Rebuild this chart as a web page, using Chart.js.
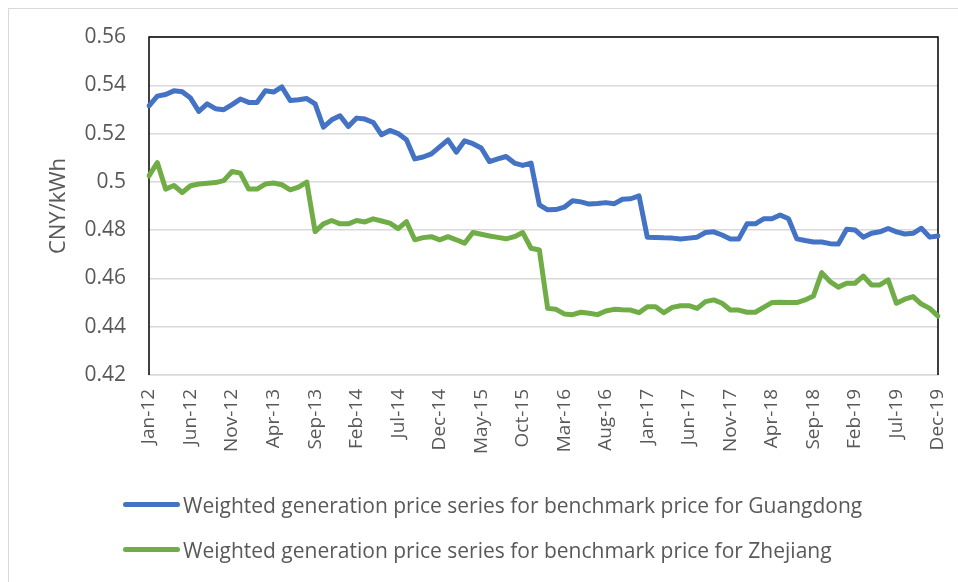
<!DOCTYPE html>
<html>
<head>
<meta charset="utf-8">
<script src="https://cdn.jsdelivr.net/npm/chart.js@4.4.1/dist/chart.umd.min.js"></script>
<style>
  html, body { margin: 0; padding: 0; background: #fff; }
  #wrap { position: relative; width: 958px; height: 582px; overflow: hidden; }
  #edge { position: absolute; left: 8px; top: 8px; right: 0; bottom: 0; border-top: 1px solid #d9d9d9; border-left: 1px solid #d9d9d9; }
  #legend { position: absolute; left: 123px; top: 482px; font-family: "Open Sans", sans-serif; font-size: 21px; color: #595959; }
  #legend .row { height: 45px; display: flex; align-items: center; white-space: nowrap; }
  #legend .swatch { display: inline-block; width: 57px; height: 5px; border-radius: 3px; margin-right: 3px; }
</style>
</head>
<body>
<div id="wrap">
  <div id="edge"></div>
  <canvas id="myChart"></canvas>
  <div id="legend"></div>
</div>
<script>
// shown tick labels on the category axis (every 5th month)
const tickLabels = ["Jan-12", "Jun-12", "Nov-12", "Apr-13", "Sep-13", "Feb-14", "Jul-14", "Dec-14", "May-15", "Oct-15",
  "Mar-16", "Aug-16", "Jan-17", "Jun-17", "Nov-17", "Apr-18", "Sep-18", "Feb-19", "Jul-19", "Dec-19"]

// monthly categories Jan-12 .. Dec-19
const monthNames = ["Jan", "Feb", "Mar", "Apr", "May", "Jun", "Jul", "Aug", "Sep", "Oct", "Nov", "Dec"]
const years = ["12", "13", "14", "15", "16", "17", "18", "19"]
const categories = []
years.forEach(function (y) { monthNames.forEach(function (m) { categories.push(m + "-" + y) }) })

const seriesNames = [
  "Weighted generation price series for benchmark price for Guangdong",
  "Weighted generation price series for benchmark price for Zhejiang"
]

const guangdong = [
  0.5315, 0.5355, 0.5362, 0.5377, 0.5373, 0.5347, 0.5292, 0.5323, 0.5303, 0.5299, 0.5320, 0.5343,
  0.5329, 0.5329, 0.5377, 0.5372, 0.5393, 0.5337, 0.5340, 0.5345, 0.5323, 0.5227, 0.5257, 0.5274,
  0.5229, 0.5264, 0.5260, 0.5246, 0.5195, 0.5213, 0.5200, 0.5174, 0.5095, 0.5103, 0.5116, 0.5145,
  0.5174, 0.5123, 0.5170, 0.5158, 0.5140, 0.5084, 0.5095, 0.5105, 0.5078, 0.5068, 0.5078, 0.4905,
  0.4884, 0.4885, 0.4895, 0.4922, 0.4917, 0.4908, 0.4910, 0.4914, 0.4909, 0.4928, 0.4930, 0.4942,
  0.4771, 0.4770, 0.4768, 0.4767, 0.4763, 0.4767, 0.4771, 0.4790, 0.4793, 0.4780, 0.4763, 0.4763,
  0.4826, 0.4826, 0.4847, 0.4847, 0.4863, 0.4847, 0.4764, 0.4757, 0.4751, 0.4751, 0.4744, 0.4743,
  0.4804, 0.4801, 0.4771, 0.4787, 0.4793, 0.4807, 0.4793, 0.4784, 0.4787, 0.4808, 0.4771, 0.4776
]

const zhejiang = [
  0.5025, 0.5080, 0.4970, 0.4985, 0.4956, 0.4984, 0.4991, 0.4994, 0.4997, 0.5005, 0.5043, 0.5036,
  0.4970, 0.4970, 0.4991, 0.4995, 0.4988, 0.4967, 0.4978, 0.4999, 0.4794, 0.4826, 0.4840, 0.4826,
  0.4826, 0.4840, 0.4834, 0.4847, 0.4838, 0.4829, 0.4806, 0.4835, 0.4760, 0.4769, 0.4773, 0.4760,
  0.4773, 0.4760, 0.4746, 0.4790, 0.4783, 0.4776, 0.4770, 0.4764, 0.4773, 0.4790, 0.4725, 0.4718,
  0.4476, 0.4472, 0.4453, 0.4450, 0.4460, 0.4456, 0.4450, 0.4465, 0.4472, 0.4470, 0.4469, 0.4458,
  0.4483, 0.4483, 0.4458, 0.4480, 0.4487, 0.4487, 0.4476, 0.4504, 0.4511, 0.4497, 0.4469, 0.4469,
  0.4460, 0.4460, 0.4480, 0.4500, 0.4501, 0.4500, 0.4500, 0.4511, 0.4527, 0.4624, 0.4587, 0.4564,
  0.4580, 0.4580, 0.4610, 0.4573, 0.4573, 0.4594, 0.4497, 0.4514, 0.4525, 0.4494, 0.4476, 0.4444
]

const colors = ['#4472C4', '#70AD47']
const font = '"Open Sans", sans-serif'
const textColor = '#595959'

// black frame on top/left/right of the plot area
const frame = {
  id: 'frame',
  beforeDatasetsDraw: function (chart) {
    const ctx = chart.ctx, a = chart.chartArea
    ctx.save()
    ctx.strokeStyle = '#000'
    ctx.lineWidth = 1.5
    ctx.beginPath()
    ctx.moveTo(a.left, a.bottom)
    ctx.lineTo(a.left, a.top)
    ctx.lineTo(a.right, a.top)
    ctx.lineTo(a.right, a.bottom)
    ctx.stroke()
    ctx.restore()
  }
}

document.addEventListener('DOMContentLoaded', function () {
  const data = {
    labels: categories,
    datasets: [
      { label: seriesNames[0], data: guangdong, borderColor: colors[0], backgroundColor: colors[0] },
      { label: seriesNames[1], data: zhejiang, borderColor: colors[1], backgroundColor: colors[1] }
    ]
  }
  data.datasets.forEach(function (d) {
    d.borderWidth = 5
    d.pointRadius = 0
    d.tension = 0
    d.borderJoinStyle = 'round'
    d.borderCapStyle = 'round'
  })

  const config = {
    type: 'line',
    data: data,
    plugins: [frame],
    options: {
      responsive: false,
      animation: false,
      layout: { padding: { top: 37, right: 20, left: 0, bottom: 0 } },
      plugins: {
        legend: { display: false },
        tooltip: { enabled: false }
      },
      scales: {
        x: {
          type: 'category',
          offset: false,
          grid: { display: false, drawTicks: false },
          border: { color: '#d9d9d9', width: 1.5 },
          ticks: {
            autoSkip: false,
            minRotation: 90,
            maxRotation: 90,
            padding: 14,
            color: textColor,
            font: { family: font, size: 19 },
            callback: function (v, i) { return i % 5 === 0 ? tickLabels[i / 5] : null }
          },
          afterFit: function (scale) {
            scale.height = 207
            scale.paddingLeft = 0
            scale.paddingRight = 0
          }
        },
        y: {
          min: 0.42,
          max: 0.56,
          grid: { color: '#d9d9d9', lineWidth: 1.5, drawTicks: false },
          border: { display: false },
          ticks: {
            stepSize: 0.02,
            padding: 23,
            color: textColor,
            font: { family: font, size: 21 },
            callback: function (v) { return String(Number(v.toFixed(2))) }
          },
          title: {
            display: true,
            text: 'CNY/kWh',
            color: textColor,
            font: { family: font, size: 22 },
            padding: { top: 46, bottom: 0 }
          },
          afterFit: function (scale) {
            scale.width = 149
            scale.paddingTop = 0
            scale.paddingBottom = 0
          }
        }
      }
    }
  }

  const canvas = document.getElementById('myChart')
  canvas.width = 958
  canvas.height = 582
  const myChart = new Chart(canvas, config)

  // legend rows, stacked and left aligned like the original
  const legend = document.getElementById('legend')
  myChart.data.datasets.forEach(function (d) {
    const row = document.createElement('div')
    row.className = 'row'
    const sw = document.createElement('span')
    sw.className = 'swatch'
    sw.style.background = d.borderColor
    row.appendChild(sw)
    row.appendChild(document.createTextNode(d.label))
    legend.appendChild(row)
  })
})
</script>
</body>
</html>
